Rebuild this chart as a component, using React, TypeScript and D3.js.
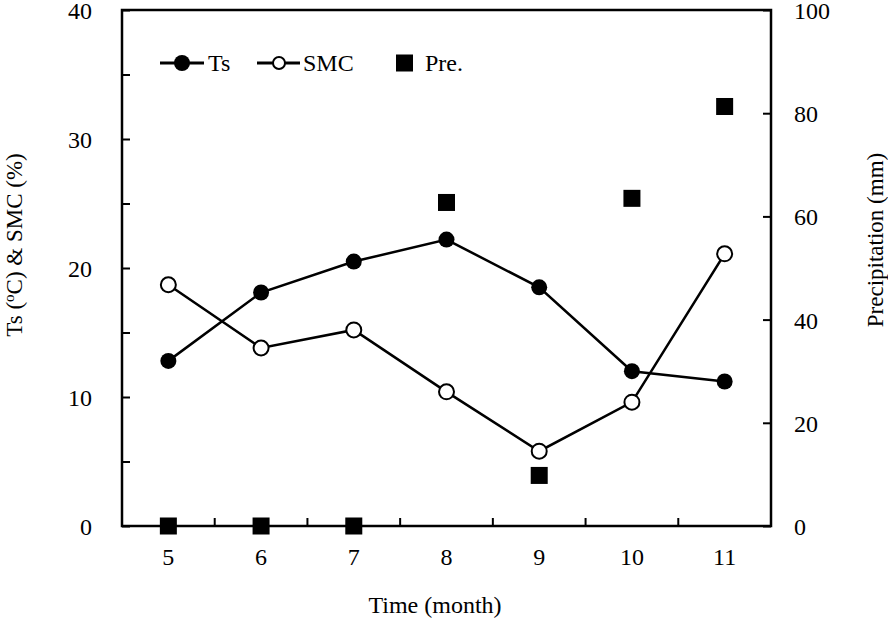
import React, { useEffect, useRef } from "react";
import * as d3 from "d3";

const months = ["5", "6", "7", "8", "9", "10", "11"];
const ts = [12.8, 18.1, 20.5, 22.2, 18.5, 12.0, 11.2];
const smc = [18.7, 13.8, 15.2, 10.4, 5.8, 9.6, 21.1];
const pre = [0, 0, 0, 62.7, 9.8, 63.5, 81.3];
const leftTicks = [0, 5, 10, 15, 20, 25, 30, 35, 40];
const rightTicks = [0, 20, 40, 60, 80, 100];

const width = 888;
const height = 630;
const marginLeft = 122;
const marginRight = 117;
const marginTop = 10;
const marginBottom = 104;
const font = "'Liberation Serif', 'Times New Roman', serif";

export default function App() {
  const holderRef = useRef<SVGSVGElement | null>(null);

  useEffect(() => {
    const svgEl = holderRef.current;
    if (!svgEl) return;
    const svg = d3.select(svgEl);
    svg.selectAll("*").remove();

    const x = d3
      .scaleBand()
      .domain(months)
      .range([marginLeft, width - marginRight])
      .padding(0);
    const y = d3
      .scaleLinear()
      .domain([0, 40])
      .range([height - marginBottom, marginTop]);
    const yR = d3
      .scaleLinear()
      .domain([0, 100])
      .range([height - marginBottom, marginTop]);
    const cx = (m: string) => (x(m) as number) + x.bandwidth() / 2;
    const bottom = height - marginBottom;

    // left axis
    const gl = svg
      .append("g")
      .attr("transform", `translate(${marginLeft},0)`)
      .call(
        d3
          .axisLeft(y)
          .tickValues(leftTicks)
          .tickSizeInner(-8)
          .tickSizeOuter(0)
          .tickPadding(30)
          .tickFormat((d: any) => (d % 10 === 0 ? String(d) : ""))
      );
    gl.select(".domain").remove();
    gl.selectAll("line").attr("stroke", "#000").attr("stroke-width", 2);
    gl.selectAll("text")
      .attr("font-family", font)
      .attr("font-size", 24)
      .attr("fill", "#000")
      .attr("dy", "0.35em");

    // right axis
    const gr = svg
      .append("g")
      .attr("transform", `translate(${width - marginRight},0)`)
      .call(
        d3
          .axisRight(yR)
          .tickValues(rightTicks)
          .tickSizeInner(-8)
          .tickSizeOuter(0)
          .tickPadding(23)
      );
    gr.select(".domain").remove();
    gr.selectAll("line").attr("stroke", "#000").attr("stroke-width", 2);
    gr.selectAll("text")
      .attr("font-family", font)
      .attr("font-size", 24)
      .attr("fill", "#000")
      .attr("dy", "0.35em");

    // bottom axis labels
    const gb = svg
      .append("g")
      .attr("transform", `translate(0,${bottom})`)
      .call(d3.axisBottom(x).tickSize(0).tickPadding(22));
    gb.select(".domain").remove();
    gb.selectAll("text")
      .attr("font-family", font)
      .attr("font-size", 24)
      .attr("fill", "#000");

    // category boundary ticks
    svg
      .append("g")
      .selectAll("line")
      .data(months.slice(1))
      .enter()
      .append("line")
      .attr("x1", (d) => x(d) as number)
      .attr("x2", (d) => x(d) as number)
      .attr("y1", bottom)
      .attr("y2", bottom - 8)
      .attr("stroke", "#000")
      .attr("stroke-width", 2);

    // frame
    svg
      .append("rect")
      .attr("x", marginLeft)
      .attr("y", marginTop)
      .attr("width", width - marginLeft - marginRight)
      .attr("height", height - marginTop - marginBottom)
      .attr("fill", "none")
      .attr("stroke", "#000")
      .attr("stroke-width", 2.5);

    // lines
    const line = d3
      .line<number>()
      .x((_, i) => cx(months[i]))
      .y((d) => y(d));
    svg.append("path").attr("d", line(ts)).attr("fill", "none").attr("stroke", "#000").attr("stroke-width", 2.5);
    svg.append("path").attr("d", line(smc)).attr("fill", "none").attr("stroke", "#000").attr("stroke-width", 2.5);

    // precipitation squares
    svg
      .append("g")
      .selectAll("rect")
      .data(pre)
      .enter()
      .append("rect")
      .attr("x", (_, i) => cx(months[i]) - 8.5)
      .attr("y", (d) => yR(d) - 8.5)
      .attr("width", 17)
      .attr("height", 17)
      .attr("fill", "#000");

    // markers
    svg
      .append("g")
      .selectAll("circle")
      .data(ts)
      .enter()
      .append("circle")
      .attr("cx", (_, i) => cx(months[i]))
      .attr("cy", (d) => y(d))
      .attr("r", 8)
      .attr("fill", "#000");
    svg
      .append("g")
      .selectAll("circle")
      .data(smc)
      .enter()
      .append("circle")
      .attr("cx", (_, i) => cx(months[i]))
      .attr("cy", (d) => y(d))
      .attr("r", 7.5)
      .attr("fill", "#fff")
      .attr("stroke", "#000")
      .attr("stroke-width", 2);

    // legend
    const lg = svg.append("g").attr("font-family", font).attr("font-size", 24);
    const ly = 63;
    lg.append("line").attr("x1", 160).attr("x2", 204).attr("y1", ly).attr("y2", ly).attr("stroke", "#000").attr("stroke-width", 3);
    lg.append("circle").attr("cx", 182).attr("cy", ly).attr("r", 8).attr("fill", "#000");
    lg.append("text").attr("x", 208).attr("y", ly).attr("dy", "0.35em").text("Ts");
    lg.append("line").attr("x1", 257).attr("x2", 300).attr("y1", ly).attr("y2", ly).attr("stroke", "#000").attr("stroke-width", 3);
    lg.append("circle").attr("cx", 279).attr("cy", ly).attr("r", 6).attr("fill", "#fff").attr("stroke", "#000").attr("stroke-width", 2);
    lg.append("text").attr("x", 303).attr("y", ly).attr("dy", "0.35em").text("SMC");
    lg.append("rect").attr("x", 396).attr("y", ly - 8.5).attr("width", 17).attr("height", 17).attr("fill", "#000");
    lg.append("text").attr("x", 425).attr("y", ly).attr("dy", "0.35em").text("Pre.");

    // axis titles
    const lt = svg
      .append("text")
      .attr("transform", `translate(22,245) rotate(-90)`)
      .attr("text-anchor", "middle")
      .attr("font-family", font)
      .attr("font-size", 23);
    lt.append("tspan").text("Ts (");
    lt.append("tspan").attr("font-size", 15).attr("dy", -8).text("o");
    lt.append("tspan").attr("dy", 8).text("C) & SMC (%)");

    svg
      .append("text")
      .attr("transform", `translate(883,240) rotate(-90)`)
      .attr("text-anchor", "middle")
      .attr("font-family", font)
      .attr("font-size", 23)
      .text("Precipitation (mm)");

    svg
      .append("text")
      .attr("x", 435)
      .attr("y", 613)
      .attr("text-anchor", "middle")
      .attr("font-family", font)
      .attr("font-size", 24)
      .text("Time (month)");
  }, []);

  return (
    <svg
      ref={holderRef}
      width={width}
      height={height}
      style={{ position: "absolute", left: 0, top: 0, background: "#fff" }}
    />
  );
}
